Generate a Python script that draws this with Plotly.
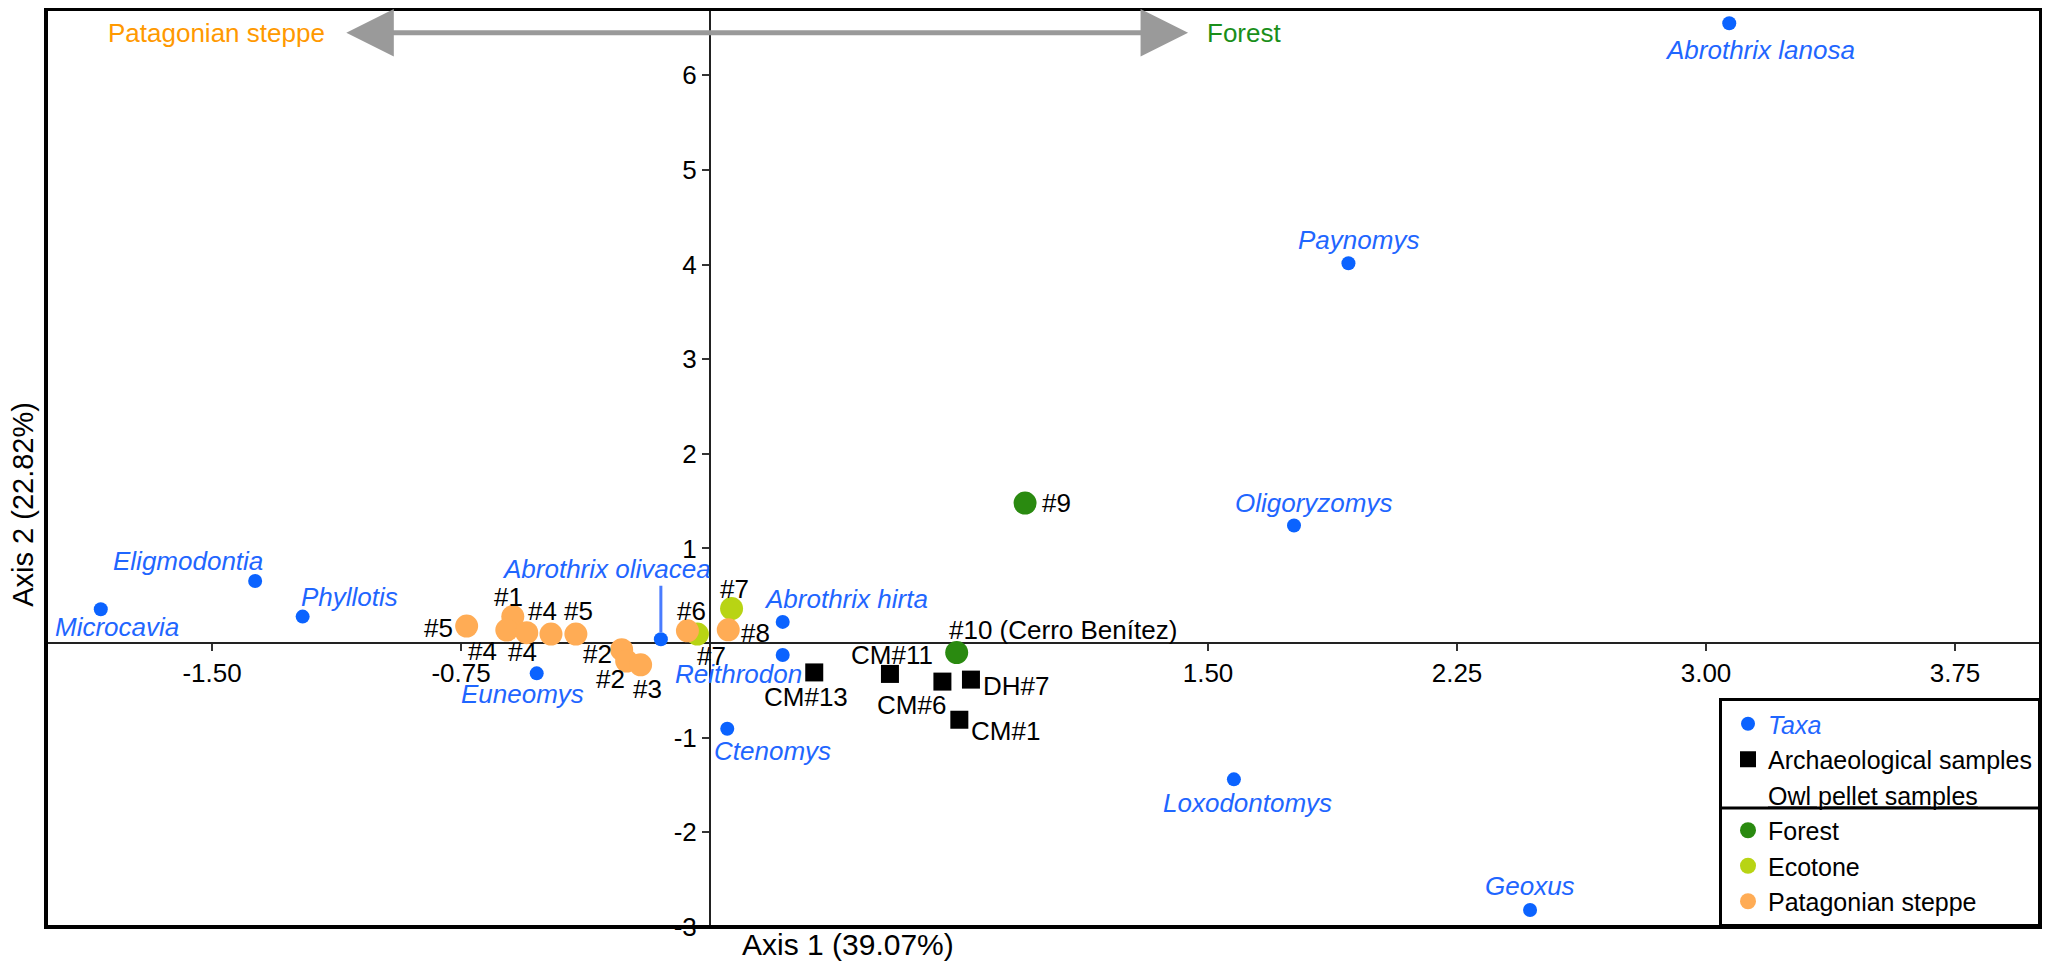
"""
Correspondence analysis of small-mammal assemblages - taxa, archaeological
samples and owl pellet samples (forest / ecotone / Patagonian steppe).
"""

import plotly.graph_objects as go

FONT = "Liberation Sans, Arial, sans-serif"
BLUE = "#1f66ff"
DOT_BLUE = "#0b63ff"
FOREST = "#2a8a10"
ECOTONE = "#b8d414"
STEPPE = "#ffac55"

# ---- data (axis 1 / axis 2 scores) ----
taxa_names = ["Abrothrix lanosa", "Paynomys", "Oligoryzomys", "Loxodontomys",
              "Geoxus", "Eligmodontia", "Microcavia", "Phyllotis", "Euneomys",
              "Abrothrix olivacea", "Abrothrix hirta", "Reithrodon", "Ctenomys"]
taxa_x = [3.07, 1.923, 1.759, 1.578, 2.47, -1.370, -1.835, -1.227, -0.522,
          -0.148, 0.219, 0.219, 0.052]
taxa_y = [6.55, 4.014, 1.242, -1.44, -2.82, 0.656, 0.358, 0.28, -0.32,
          0.04, 0.224, -0.126, -0.905]

arch_names = ["CM#13", "CM#11", "CM#6", "DH#7", "CM#1"]
arch_x = [0.314, 0.542, 0.700, 0.786, 0.751]
arch_y = [-0.31, -0.326, -0.407, -0.386, -0.81]

forest_names = ["#9", "#10 (Cerro Benítez)"]
forest_x = [0.949, 0.743]
forest_y = [1.48, -0.10]

ecotone_names = ["#7", "#7"]
ecotone_x = [0.065, -0.038]
ecotone_y = [0.365, 0.095]

steppe_names = ["#5", "#1", "#4", "#4", "#4", "#5", "#2", "#2", "#3", "#6", "#8"]
steppe_x = [-0.733, -0.594, -0.612, -0.552, -0.479, -0.404, -0.266, -0.251,
            -0.209, -0.068, 0.055]
steppe_y = [0.18, 0.28, 0.137, 0.11, 0.095, 0.095, -0.07, -0.19, -0.23,
            0.13, 0.14]

x_ticks = [-1.50, -0.75, 1.50, 2.25, 3.00, 3.75]
y_ticks = [-3, -2, -1, 1, 2, 3, 4, 5, 6]
X_RANGE = [-2.0, 4.009]
Y_RANGE = [-3.0, 6.70]

# label offsets in px from each point (dx right, dy down)
taxa_off = [(31, 27), (10, -23), (19, -23), (14, 24), (0, -24), (-67, -20),
            (16, 18), (47, -20), (-14, 21), (-54, -70), (63, -23), (-44, 19),
            (45, 22)]
arch_off = [(-8, 25), (2, -19), (-31, 23), (45, 6), (46, 11)]
forest_off = [(31, 0), (106, -23)]
ecotone_off = [(3, -20), (14, 22)]
steppe_off = [(-28, 2), (-4, -20), (-24, 21), (-4, 19), (-8, -23), (3, -23),
              (-24, 4), (-16, 18), (7, 24), (4, -20), (27, 3)]

fig = go.Figure()

fig.add_trace(go.Scatter(
    x=taxa_x, y=taxa_y, mode="markers", legendrank=1,
    name=f'<span style="color:{BLUE}"><i>Taxa</i></span>',
    marker=dict(color=DOT_BLUE, size=14, symbol="circle")))
fig.add_trace(go.Scatter(
    x=arch_x, y=arch_y, mode="markers", legendrank=2,
    name="Archaeological samples",
    marker=dict(color="black", size=18, symbol="square")))
fig.add_trace(go.Scatter(
    x=[None], y=[None], mode="markers", legendrank=3,
    name="<u>Owl pellet samples</u>",
    marker=dict(color="rgba(0,0,0,0)", size=1)))
fig.add_trace(go.Scatter(
    x=ecotone_x, y=ecotone_y, mode="markers", legendrank=5, name="Ecotone",
    marker=dict(color=ECOTONE, size=23)))
fig.add_trace(go.Scatter(
    x=steppe_x, y=steppe_y, mode="markers", legendrank=6,
    name="Patagonian steppe", marker=dict(color=STEPPE, size=23)))
fig.add_trace(go.Scatter(
    x=forest_x, y=forest_y, mode="markers", legendrank=4, name="Forest",
    marker=dict(color=FOREST, size=23)))


def add_labels(names, xs, ys, offs, color, italic=False):
    for n, x, y, (dx, dy) in zip(names, xs, ys, offs):
        fig.add_annotation(
            x=x, y=y, text=f"<i>{n}</i>" if italic else n, showarrow=False,
            xanchor="center", yanchor="middle", xshift=dx, yshift=-dy,
            font=dict(size=26, color=color, family=FONT))


add_labels(taxa_names, taxa_x, taxa_y, taxa_off, BLUE, italic=True)
add_labels(arch_names, arch_x, arch_y, arch_off, "black")
add_labels(forest_names, forest_x, forest_y, forest_off, "black")
add_labels(ecotone_names, ecotone_x, ecotone_y, ecotone_off, "black")
add_labels(steppe_names, steppe_x, steppe_y, steppe_off, "black")

# leader line for Abrothrix olivacea
i_oli = taxa_names.index("Abrothrix olivacea")
fig.add_annotation(x=taxa_x[i_oli], y=taxa_y[i_oli], text="", showarrow=True,
                   arrowhead=0, ax=0, ay=-55, arrowwidth=3,
                   arrowcolor="#4a7cff", standoff=7)

# gradient arrow: Patagonian steppe <-> Forest
ARROW_Y = 6.45
fig.add_annotation(x=1.44, y=ARROW_Y, ax=-1.10, ay=ARROW_Y, axref="x", ayref="y",
                   text="", showarrow=True, arrowside="end+start",
                   arrowhead=2, startarrowhead=2, arrowsize=1.9,
                   startarrowsize=1.9, arrowwidth=5, arrowcolor="#9a9a9a")
fig.add_annotation(x=-1.154, y=ARROW_Y, text="Patagonian steppe", showarrow=False,
                   xanchor="right", yanchor="middle",
                   font=dict(size=26, color="#ff9900", family=FONT))
fig.add_annotation(x=1.49, y=ARROW_Y, text="Forest", showarrow=False,
                   xanchor="left", yanchor="middle",
                   font=dict(size=26, color="#1a8f1a", family=FONT))

# axis titles
fig.add_annotation(xref="paper", yref="paper", x=0.348, y=-0.0196,
                   text="Axis 1 (39.07%)", showarrow=False, xanchor="left",
                   yanchor="middle", font=dict(size=30, color="black", family=FONT))
fig.add_annotation(xref="paper", yref="paper", x=-0.0115, y=0.46,
                   text="Axis 2 (22.82%)", showarrow=False, textangle=-90,
                   xanchor="center", yanchor="middle",
                   font=dict(size=29, color="black", family=FONT))

# axes cross at the origin
x0_frac = (0 - X_RANGE[0]) / (X_RANGE[1] - X_RANGE[0])
y0_frac = (0 - Y_RANGE[0]) / (Y_RANGE[1] - Y_RANGE[0])

axis_common = dict(showgrid=False, zeroline=False, showline=True,
                   linecolor="#222222", linewidth=2, ticks="outside",
                   ticklen=7, tickwidth=2, tickcolor="#333333",
                   tickfont=dict(size=26, color="black", family=FONT),
                   anchor="free", layer="below traces", automargin=False)

# page body keeps its default 8px margin, so the figure is 16px smaller
fig.update_layout(
    width=2034, height=953,
    template="none",
    paper_bgcolor="white", plot_bgcolor="white",
    font=dict(family=FONT, size=26, color="black"),
    margin=dict(l=38, r=1, t=1, b=34),
    xaxis=dict(range=X_RANGE, tickvals=x_ticks,
               ticktext=[f"{v:.2f}" for v in x_ticks],
               position=y0_frac, **axis_common),
    yaxis=dict(range=Y_RANGE, tickvals=y_ticks,
               ticktext=[str(v) for v in y_ticks],
               position=x0_frac, side="left", **axis_common),
    legend=dict(x=1, y=0, xanchor="right", yanchor="bottom",
                bgcolor="rgba(255,255,255,0)", bordercolor="black",
                borderwidth=3, indentation=6,
                font=dict(size=25, color="black", family=FONT),
                itemsizing="trace", tracegroupgap=0, traceorder="normal"),
    showlegend=True,
    shapes=[
        dict(type="rect", xref="paper", yref="paper", x0=0, x1=1, y0=0, y1=1,
             line=dict(color="black", width=4), layer="above"),
        dict(type="line", xref="paper", yref="paper", x0=0.8396, x1=1,
             y0=0.1296, y1=0.1296, line=dict(color="black", width=3),
             layer="above"),
    ],
)

fig.write_html("out.html")
